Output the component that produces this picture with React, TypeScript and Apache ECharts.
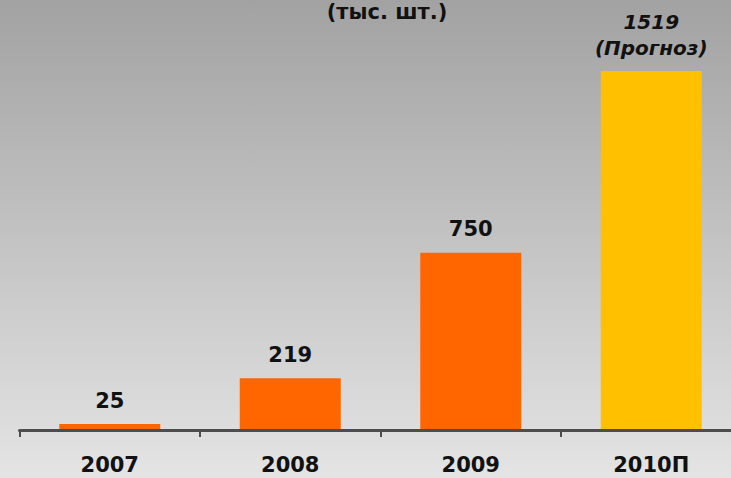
import React, { useEffect, useRef } from "react";
import * as echarts from "echarts";

const categories = ["2007", "2008", "2009", "2010П"];
const values = [25, 219, 750, 1519];
const forecastNote = "(Прогноз)";
const titleText = "(тыс. шт.)";

export default function App() {
  const ref = useRef<HTMLDivElement>(null);
  useEffect(() => {
    if (!ref.current) return;
    const chart = echarts.init(ref.current, null, { renderer: "svg" });
    const shadow = {
      textShadowColor: "rgba(80,80,80,0.75)",
      textShadowOffsetX: 1,
      textShadowOffsetY: 2,
      textShadowBlur: 0,
    };
    chart.setOption({
      animation: false,
      backgroundColor: new echarts.graphic.LinearGradient(0, 0, 0, 1, [
        { offset: 0, color: "#a2a2a2" },
        { offset: 1, color: "#e4e4e4" },
      ]),
      title: {
        text: titleText,
        left: 387,
        textAlign: "center",
        top: 1,
        padding: 0,
        textStyle: {
          fontFamily: "DejaVu Sans",
          fontWeight: "bold",
          fontSize: 21,
          color: "#111",
          ...shadow,
        },
      },
      grid: {
        left: 19.5,
        width: 722,
        top: 0,
        bottom: 48,
        containLabel: false,
        outerBoundsMode: "none",
      },
      xAxis: {
        type: "category",
        data: categories,
        axisLine: { lineStyle: { color: "#4d4d4d", width: 3 } },
        axisTick: { show: true, length: 7, lineStyle: { color: "#4d4d4d", width: 2 } },
        axisLabel: {
          margin: 24,
          fontFamily: "DejaVu Sans",
          fontWeight: "bold",
          fontSize: 21,
          color: "#111",
          ...shadow,
        },
        z: 10,
      },
      yAxis: {
        type: "value",
        min: 0,
        max: 1820,
        show: false,
        splitLine: { show: false },
      },
      series: [
        {
          type: "bar",
          barWidth: 101,
          data: values.map((v, i) => ({
            value: v,
            itemStyle: { color: i === values.length - 1 ? "#ffc000" : "#ff6600" },
            label:
              i === values.length - 1
                ? {
                    show: true,
                    position: "top",
                    distance: 10,
                    formatter: "{a|{c}}\n{a|" + forecastNote + "}",
                    rich: {
                      a: {
                        fontFamily: "DejaVu Sans",
                        fontWeight: "bold",
                        fontStyle: "italic",
                        fontSize: 20,
                        lineHeight: 26,
                        color: "#111",
                        ...shadow,
                      },
                    },
                  }
                : undefined,
          })),
          label: {
            show: true,
            position: "top",
            distance: 13,
            fontFamily: "DejaVu Sans",
            fontWeight: "bold",
            fontSize: 21,
            color: "#111",
            ...shadow,
          },
        },
      ],
    });
    return () => chart.dispose();
  }, []);
  return (
    <div
      ref={ref}
      style={{ position: "fixed", left: 0, top: 0, width: 731, height: 478 }}
    />
  );
}
